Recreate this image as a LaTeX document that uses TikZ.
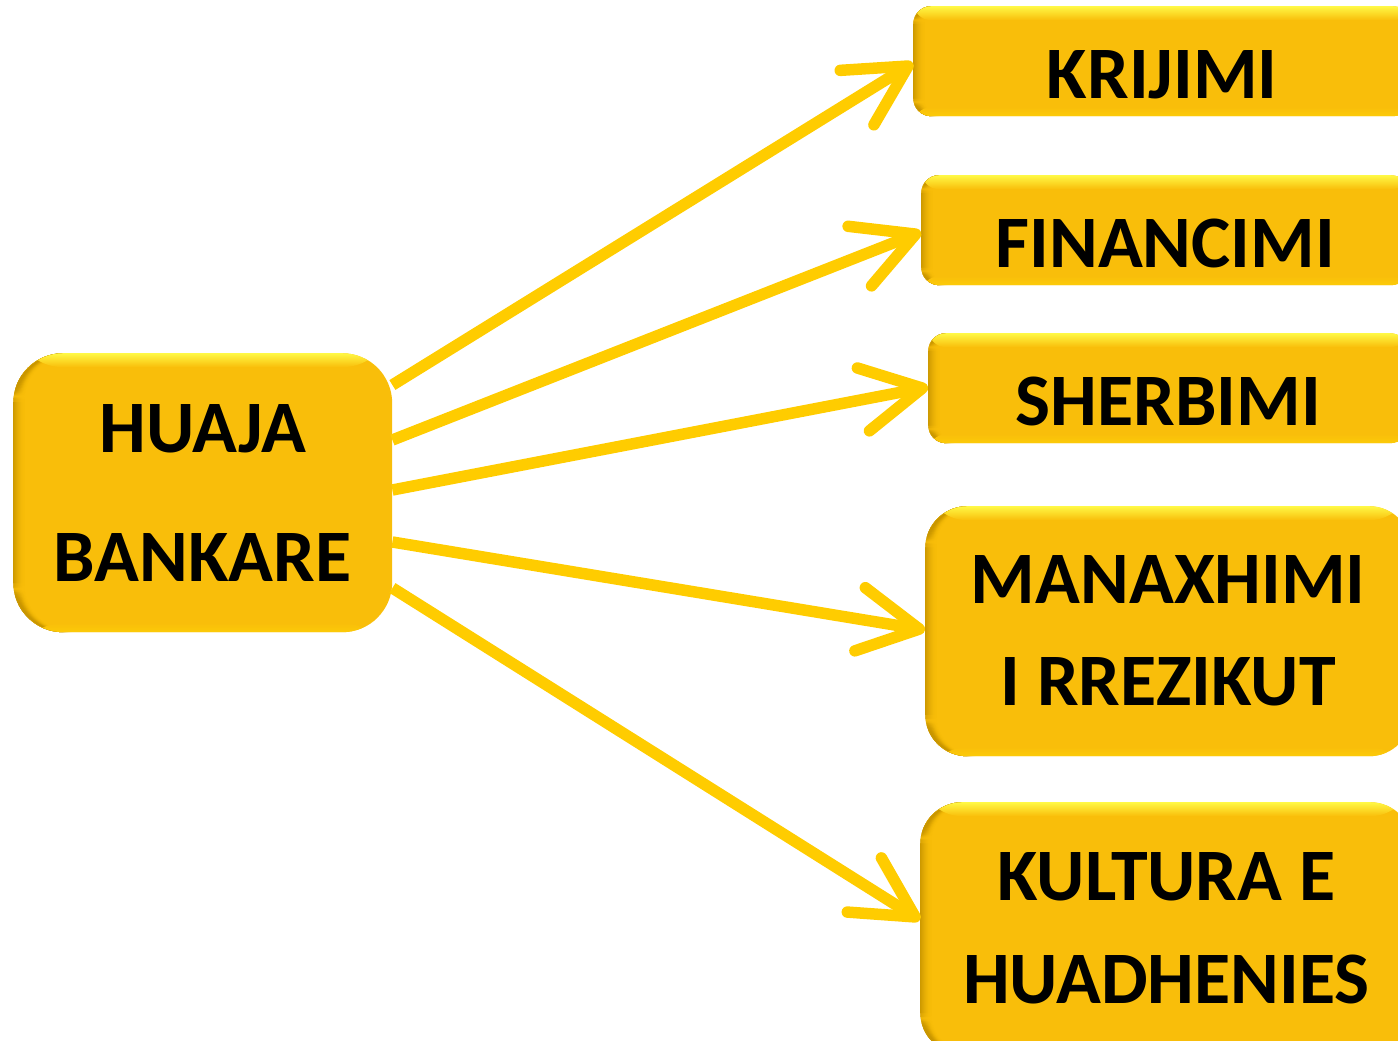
\documentclass[tikz,border=0pt]{standalone}
\usepackage{fontspec}
\setmainfont{Carlito}
\usetikzlibrary{arrows.meta}
\definecolor{boxgold}{HTML}{F9BE0A}
\definecolor{boxlight}{HTML}{FFF845}
\definecolor{boxdark}{HTML}{C99600}
\definecolor{boxlow}{HTML}{FCCB08}
\definecolor{arrowyellow}{HTML}{FFCC00}
\tikzset{
  gbox/.style={rounded corners=#1, fill=boxgold, inner sep=0pt, anchor=north west,
    align=center, text=black,
    path picture={
      \foreach \i in {0,...,11}{
        \fill[boxdark, opacity={0.9*(1-\i/12)*(1-\i/12)}]
          ([xshift=\i pt]path picture bounding box.north west) rectangle ([xshift=\i pt+1pt]path picture bounding box.south west);
      }
      \shade[top color=boxlight, bottom color=boxgold]
        (path picture bounding box.north west) rectangle ([yshift=-14pt]path picture bounding box.north east);
      \shade[bottom color=boxlow, top color=boxgold]
        (path picture bounding box.south west) rectangle ([yshift=9pt]path picture bounding box.south east);
    }},
  onelinetext/.style={font=\fontsize{74}{90}\selectfont\bfseries, text height=75pt, text depth=0pt},
  twolinetext/.style={font=\fontsize{74}{#1}\selectfont\bfseries},
  arr/.style={draw=arrowyellow, line width=11.5pt, line cap=butt,
    -{Straight Barb[length=60pt, width=64pt, round]}}
}
\begin{document}
\begin{tikzpicture}[x=1pt, y=-1pt]
\path[use as bounding box, clip] (0,0) rectangle (1398,1041);

\node[gbox=50pt, twolinetext=129, minimum width=379pt, minimum height=279pt] (huaja) at (13,353) {HUAJA\\BANKARE};

\node[gbox=18pt, onelinetext, minimum width=498pt, minimum height=110pt] (krijimi) at (913,6) {KRIJIMI};
\node[gbox=18pt, onelinetext, minimum width=488pt, minimum height=110pt] (financimi) at (921,175) {FINANCIMI};
\node[gbox=18pt, onelinetext, minimum width=480pt, minimum height=110pt] (sherbimi) at (928,333) {SHERBIMI};
\node[gbox=42pt, twolinetext=102, minimum width=486pt, minimum height=250pt] (manaxhimi) at (925,506) {MANAXHIMI\\I RREZIKUT};
\node[gbox=42pt, twolinetext=103, minimum width=492pt, minimum height=252pt] (kultura) at (920,802) {KULTURA E\\HUADHENIES};

\coordinate (s1) at ([yshift=-32pt]huaja.north east);
\coordinate (s2) at ([yshift=-87pt]huaja.north east);
\coordinate (s3) at ([yshift=-137pt]huaja.north east);
\coordinate (s4) at ([yshift=-189pt]huaja.north east);
\coordinate (s5) at ([yshift=-235pt]huaja.north east);

\coordinate (e1) at ([yshift=-57pt]krijimi.north west);
\coordinate (e2) at ([yshift=-57pt]financimi.north west);
\coordinate (e3) at ([yshift=-54pt]sherbimi.north west);
\coordinate (e4) at ([yshift=-124pt]manaxhimi.north west);
\coordinate (e5) at ([yshift=-118pt]kultura.north west);

\draw[arr] (s1) -- (e1);
\draw[arr] (s2) -- (e2);
\draw[arr] (s3) -- (e3);
\draw[arr] (s4) -- (e4);
\draw[arr] (s5) -- (e5);
\end{tikzpicture}
\end{document}
